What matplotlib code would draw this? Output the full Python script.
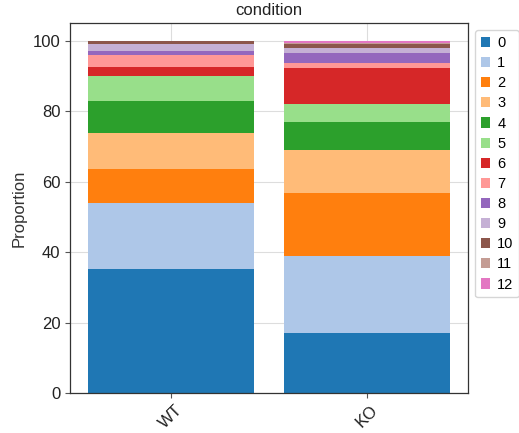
import matplotlib
matplotlib.use('Agg')
import matplotlib.pyplot as plt
import numpy as np

plt.rcParams['font.family'] = ['Liberation Sans', 'DejaVu Sans']

# Groups and cluster proportions (percent)
conditions = ['WT', 'KO']
clusters = ['0', '1', '2', '3', '4', '5', '6', '7', '8', '9', '10', '11', '12']
wt_values = [35.3, 18.6, 9.6, 10.2, 9.2, 7.2, 2.5, 3.4, 1.1, 1.9, 0.8, 0.2, 0.05]
ko_values = [17.1, 21.9, 17.9, 12.0, 7.9, 5.2, 10.2, 1.5, 2.9, 1.4, 1.0, 0.5, 0.5]

colors = plt.get_cmap('tab20').colors[:13]

fig = plt.figure(figsize=(5.19, 4.33), dpi=100)
ax = fig.add_axes([0.1349, 0.0924, 0.7668, 0.8545])

x = np.arange(len(conditions))
bottom = np.zeros(len(conditions))
for i, name in enumerate(clusters):
    vals = np.array([wt_values[i], ko_values[i]])
    ax.bar(x, vals, width=0.85, bottom=bottom, color=colors[i], label=name,
           edgecolor='none', zorder=2)
    bottom += vals

ax.set_xticks(x)
ax.set_xticklabels(conditions, rotation=45, fontsize=12, color='#222222')
ax.tick_params(axis='y', labelsize=12, colors='#222222')
ax.tick_params(axis='both', length=3.5, color='#555555')
ax.grid(True, color='#dddddd', linewidth=0.8, zorder=0)
ax.set_axisbelow(True)
for s in ax.spines.values():
    s.set_color('#333333')
    s.set_linewidth(0.9)

ax.set_ylabel('Proportion', fontsize=12, color='#333333')
ax.set_title('condition', fontsize=12, color='#222222')

ax.legend(loc='upper left', bbox_to_anchor=(1.0, 1.0), fontsize=10.5,
          handlelength=0.6, handleheight=0.7, handletextpad=0.5,
          labelspacing=0.42, borderpad=0.4, borderaxespad=0.5,
          edgecolor='#cccccc')

fig.savefig('out.png', dpi=100)
